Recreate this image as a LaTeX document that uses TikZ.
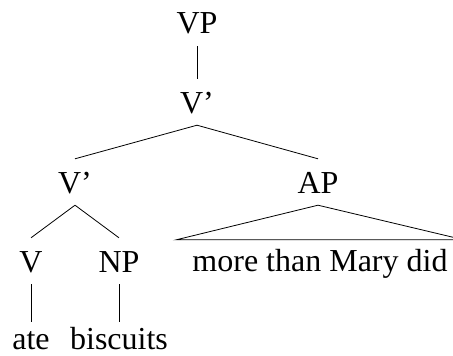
\documentclass[tikz,border=0pt]{standalone}
\usepackage{fontspec}
\setmainfont{Liberation Serif}
\begin{document}
\begin{tikzpicture}[x=1pt,y=-1pt,
  lab/.style={anchor=base,inner xsep=0pt,inner ysep=12pt,text height=22pt,text depth=0pt,font=\fontsize{32}{38}\selectfont},
  word/.style={lab,text height=15pt},
  edge/.style={line width=0.8pt}]
\useasboundingbox (0,0) rectangle (453,356);
\node[lab] (vp) at (197,34) {VP};
\node[lab] (vbar1) at (197,113) {V’};
\node[lab] (vbar2) at (75,193) {V’};
\node[lab] (ap) at (318,193) {AP};
\node[lab] (v) at (31,272) {V};
\node[lab] (np) at (119,272) {NP};
\node[lab,inner xsep=16pt,inner ysep=9pt] (mtmd) at (320,271) {more than Mary did};
\node[word] (ate) at (31,349) {ate};
\node[word] (bisc) at (119,349) {biscuits};
\draw[edge] (vp.south) -- (vbar1.north);
\draw[edge] (vbar1.south) -- (vbar2.north);
\draw[edge] (vbar1.south) -- (ap.north);
\draw[edge] (vbar2.south) -- (v.north);
\draw[edge] (vbar2.south) -- (np.north);
\draw[edge] (v.south) -- (ate.north);
\draw[edge] (np.south) -- (bisc.north);
\draw[edge] (ap.south) -- (mtmd.north west) -- (mtmd.north east) -- cycle;
\end{tikzpicture}
\end{document}
